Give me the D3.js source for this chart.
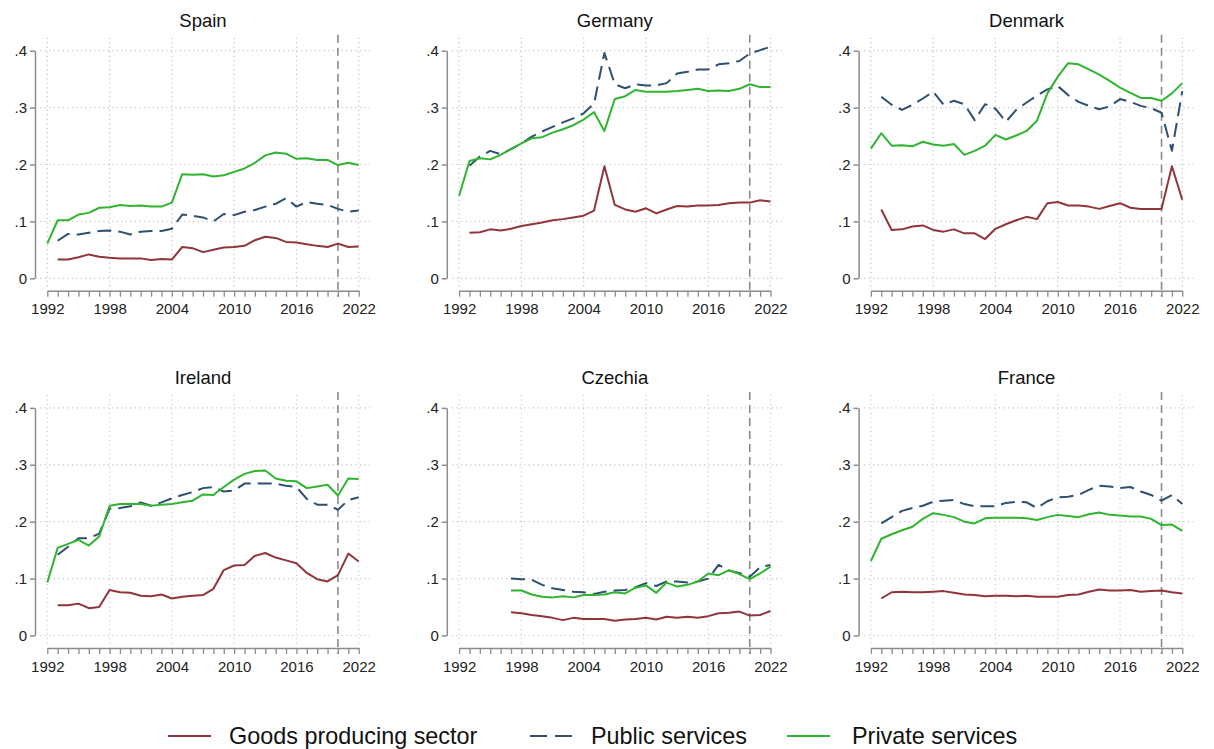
<!DOCTYPE html>
<html>
<head>
<meta charset="utf-8">
<script src="https://cdn.jsdelivr.net/npm/d3@7"></script>
<style>
  body { margin: 0; background: #fff; }
  svg { display: block; font-family: "Liberation Sans", Arial, sans-serif; }
</style>
</head>
<body>
<svg id="chart" width="1214" height="749"></svg>
<script>
// Years on the horizontal axis and the labelled ticks
const years = [1992,1993,1994,1995,1996,1997,1998,1999,2000,2001,2002,2003,2004,2005,2006,2007,
               2008,2009,2010,2011,2012,2013,2014,2015,2016,2017,2018,2019,2020,2021,2022];
const yearTicks = [1992, 1998, 2004, 2010, 2016, 2022];
const shareTicks = [0, 0.1, 0.2, 0.3, 0.4];
const breakYear = 2020;

const countries = ["Spain", "Germany", "Denmark", "Ireland", "Czechia", "France"];
const seriesNames = ["Goods producing sector", "Public services", "Private services"];

// Shares by year, 1992–2022 (null where no observation)
const spainGoods    = [null,.033,.033,.037,.042,.038,.036,.035,.035,.035,.032,.034,.033,.055,.053,.046,.050,.054,.055,.057,.067,.073,.071,.064,.063,.060,.057,.055,.061,.055,.056];
const spainPublic   = [null,.066,.078,.077,.080,.083,.084,.082,.077,.082,.083,.083,.087,.112,.110,.107,.100,.113,.111,.117,.120,.126,.131,.141,.126,.134,.131,.129,.122,.117,.119];
const spainPrivate  = [.061,.102,.102,.112,.115,.124,.125,.129,.127,.128,.126,.126,.133,.183,.182,.183,.179,.181,.187,.193,.203,.216,.221,.219,.210,.211,.208,.208,.199,.203,.199];

const germanyGoods   = [null,.080,.081,.086,.084,.087,.092,.095,.098,.102,.104,.107,.110,.119,.197,.129,.121,.117,.123,.114,.121,.127,.126,.128,.128,.129,.132,.133,.133,.137,.135];
const germanyPublic  = [null,.198,.214,.224,.218,.227,.237,.249,.258,.266,.274,.281,.290,.307,.396,.341,.334,.341,.339,.339,.343,.360,.363,.367,.367,.376,.378,.382,.395,.401,.407];
const germanyPrivate = [.145,.206,.211,.209,.217,.227,.237,.246,.248,.256,.262,.269,.279,.292,.259,.315,.320,.331,.328,.328,.328,.329,.331,.333,.329,.330,.329,.333,.341,.336,.336];

const denmarkGoods   = [null,.121,.085,.086,.091,.093,.085,.082,.086,.079,.079,.069,.087,.095,.102,.108,.104,.132,.134,.128,.128,.126,.122,.127,.132,.124,.122,.122,.122,.197,.138];
const denmarkPublic  = [null,.319,.305,.296,.305,.316,.328,.305,.312,.306,.278,.306,.298,.275,.296,.309,.321,.332,.338,.322,.310,.303,.297,.302,.315,.310,.303,.299,.291,.224,.329];
const denmarkPrivate = [.228,.255,.233,.234,.232,.240,.235,.233,.236,.217,.224,.233,.252,.244,.251,.259,.277,.325,.354,.378,.376,.367,.358,.347,.335,.326,.317,.317,.312,.325,.343];

const irelandGoods   = [null,.053,.053,.056,.048,.050,.080,.076,.075,.070,.069,.072,.065,.068,.070,.071,.082,.115,.123,.124,.140,.145,.137,.132,.127,.110,.099,.095,.106,.144,.130];
const irelandPublic  = [null,.142,.156,.171,.171,.179,.223,.224,.227,.234,.228,.234,.241,.247,.252,.259,.261,.253,.255,.267,.267,.267,.267,.263,.261,.240,.230,.230,.221,.238,.243];
const irelandPrivate = [.093,.154,.161,.168,.158,.174,.228,.231,.231,.231,.228,.230,.231,.234,.237,.248,.247,.261,.274,.284,.289,.290,.276,.272,.271,.259,.262,.265,.246,.276,.275];

const czechiaGoods   = [null,null,null,null,null,.041,.039,.036,.034,.031,.027,.031,.029,.029,.029,.026,.028,.029,.031,.028,.033,.031,.033,.031,.034,.039,.040,.042,.035,.036,.043];
const czechiaPublic  = [null,null,null,null,null,.100,.099,.098,.089,.083,.080,.077,.076,.073,.077,.079,.080,.085,.092,.087,.095,.095,.093,.095,.100,.124,.114,.110,.103,.120,.124];
const czechiaPrivate = [null,null,null,null,null,.079,.079,.072,.068,.067,.069,.067,.071,.071,.072,.076,.074,.084,.088,.075,.093,.086,.089,.095,.109,.106,.115,.108,.099,.109,.121];

const franceGoods   = [null,.065,.076,.077,.076,.076,.077,.078,.075,.072,.071,.069,.070,.070,.069,.070,.068,.068,.068,.071,.072,.077,.081,.079,.079,.080,.077,.078,.079,.076,.074];
const francePublic  = [null,.197,.208,.219,.224,.228,.235,.237,.238,.231,.227,.227,.227,.233,.235,.234,.224,.236,.243,.244,.247,.256,.263,.262,.259,.261,.253,.247,.237,.247,.231];
const francePrivate = [.131,.170,.178,.185,.191,.205,.215,.212,.208,.200,.197,.206,.207,.207,.207,.206,.203,.208,.212,.210,.208,.213,.216,.212,.211,.209,.209,.205,.194,.195,.184];

const panelSeries = {
  Spain:   [spainGoods, spainPublic, spainPrivate],
  Germany: [germanyGoods, germanyPublic, germanyPrivate],
  Denmark: [denmarkGoods, denmarkPublic, denmarkPrivate],
  Ireland: [irelandGoods, irelandPublic, irelandPrivate],
  Czechia: [czechiaGoods, czechiaPublic, czechiaPrivate],
  France:  [franceGoods, francePublic, francePrivate]
};

// Styling per series
const seriesColor = ["#90353b", "#2c4f72", "#2fb52f"];
const seriesDash  = [null, "14,7", null];

const svg = d3.select("#chart");
const axisGrey = "#8c8c8c";
const gridGrey = "#c4c4c4";

// Panel geometry
const colStep = 411.8, rowStep = 357.2;
const x0 = 47.3, x1 = 358.7, yTop = 50.7, yBottom = 278.3;

const fmtShare = d => d === 0 ? "0" : d3.format(".1f")(d).replace(/^0/, "");

countries.forEach((country, i) => {
  const c = i % 3, r = Math.floor(i / 3);
  const x = d3.scaleLinear().domain([1992, 2022]).range([x0 + colStep * c, x1 + colStep * c]);
  const y = d3.scaleLinear().domain([0, 0.4]).range([yBottom + rowStep * r, yTop + rowStep * r]);

  const plotTop = y(0.4) - 13;
  const axisY = y(0) + 12.4;
  const axisX = x(1992) - 12.3;
  const gridLeft = x(1992) - 7;
  const gridRight = x(2022) + 11;

  const g = svg.append("g");

  // Title
  g.append("text")
    .attr("x", (x(1992) + x(2022)) / 2)
    .attr("y", y(0.4) - 24)
    .attr("text-anchor", "middle")
    .attr("font-size", 18.5)
    .attr("fill", "#111")
    .text(country);

  // Dotted grid
  g.append("g").selectAll("line.h").data(shareTicks).join("line")
    .attr("x1", gridLeft).attr("x2", gridRight)
    .attr("y1", d => y(d)).attr("y2", d => y(d))
    .attr("stroke", gridGrey).attr("stroke-width", 1.2)
    .attr("stroke-dasharray", "1.2,3.3");
  g.append("g").selectAll("line.v").data(yearTicks).join("line")
    .attr("x1", d => x(d)).attr("x2", d => x(d))
    .attr("y1", plotTop).attr("y2", axisY - 2)
    .attr("stroke", gridGrey).attr("stroke-width", 1.2)
    .attr("stroke-dasharray", "1.2,3.3");

  // Y axis
  const yAxis = g.append("g")
    .attr("transform", `translate(${axisX},0)`)
    .call(d3.axisLeft(y).tickValues(shareTicks).tickFormat(fmtShare).tickSize(5).tickSizeOuter(0).tickPadding(3));
  yAxis.select(".domain").attr("stroke", axisGrey).attr("stroke-width", 1.5);
  yAxis.selectAll(".tick line").attr("stroke", axisGrey).attr("stroke-width", 1.5);
  yAxis.selectAll(".tick text").attr("font-size", 15).attr("fill", "#222")
    .attr("font-family", "'Liberation Sans', Arial, sans-serif");

  // X axis: a tick every year, labels on the six-year marks
  const xAxis = g.append("g")
    .attr("transform", `translate(0,${axisY})`)
    .call(d3.axisBottom(x).tickValues(years)
      .tickFormat(d => yearTicks.includes(d) ? String(d) : "")
      .tickSize(6).tickSizeOuter(0).tickPadding(7));
  xAxis.select(".domain").attr("stroke", axisGrey).attr("stroke-width", 1.5);
  xAxis.selectAll(".tick line").attr("stroke", axisGrey).attr("stroke-width", 1.3);
  xAxis.selectAll(".tick text").attr("font-size", 15).attr("fill", "#222")
    .attr("font-family", "'Liberation Sans', Arial, sans-serif");

  // Reference line at the break year
  g.append("line")
    .attr("x1", x(breakYear)).attr("x2", x(breakYear))
    .attr("y1", plotTop - 3).attr("y2", axisY + 6)
    .attr("stroke", "#8a8a8a").attr("stroke-width", 1.6)
    .attr("stroke-dasharray", "8,5");

  // Series lines
  const line = d3.line()
    .defined(d => d.v !== null)
    .x(d => x(d.year))
    .y(d => y(d.v));

  panelSeries[country].forEach((vals, s) => {
    const pts = years.map((yr, k) => ({ year: yr, v: vals[k] }));
    g.append("path")
      .datum(pts)
      .attr("d", line)
      .attr("fill", "none")
      .attr("stroke", seriesColor[s])
      .attr("stroke-width", 2)
      .attr("stroke-linejoin", "round")
      .attr("stroke-dasharray", seriesDash[s]);
  });
});

// Legend
const legendY = 736;
const legendItems = [
  { lineX: 168, textX: 229 },
  { lineX: 530, textX: 591 },
  { lineX: 787, textX: 852 }
];
const legend = svg.append("g");
seriesNames.forEach((name, s) => {
  const it = legendItems[s];
  legend.append("line")
    .attr("x1", it.lineX).attr("x2", it.lineX + 43)
    .attr("y1", legendY).attr("y2", legendY)
    .attr("stroke", seriesColor[s]).attr("stroke-width", 2.2)
    .attr("stroke-dasharray", s === 1 ? "17,8" : null);
  legend.append("text")
    .attr("x", it.textX).attr("y", legendY)
    .attr("dy", "0.36em")
    .attr("font-size", 23.4)
    .attr("fill", "#111")
    .text(name);
});
</script>
</body>
</html>
